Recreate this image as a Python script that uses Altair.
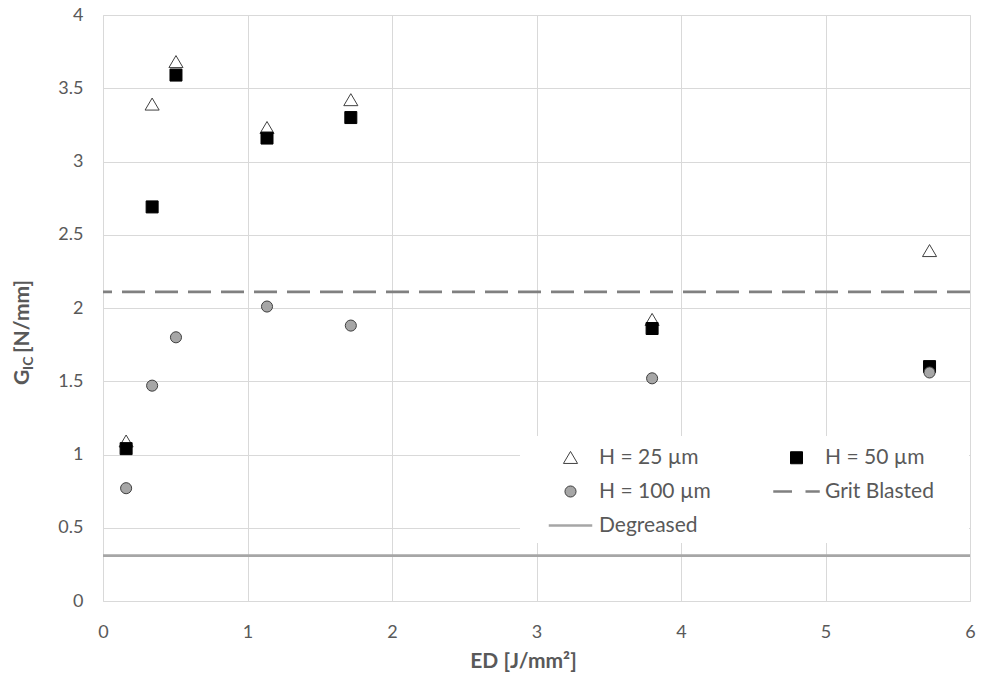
import altair as alt
import pandas as pd

# ---- data ----
ed_values = [0.16, 0.34, 0.505, 1.135, 1.715, 3.80, 5.72]
g_h25 = [1.09, 3.39, 3.68, 3.23, 3.42, 1.92, 2.39]
g_h50 = [1.04, 2.69, 3.59, 3.16, 3.30, 1.86, 1.60]
g_h100 = [0.77, 1.47, 1.80, 2.01, 1.88, 1.52, 1.56]
grit_blasted = [2.11]
degreased = [0.31]

series_names = ["H = 25 µm", "H = 50 µm", "H = 100 µm", "Grit Blasted", "Degreased"]
x_ticks = [0, 1, 2, 3, 4, 5, 6]
y_ticks = [0, 0.5, 1, 1.5, 2, 2.5, 3, 3.5, 4]

# ---- styling (symbol paths, colours) ----
style = {
    "H = 25 µm": ("M0,-0.42L0.47,0.38L-0.47,0.38Z", "#ffffff", "#404040"),
    "H = 50 µm": ("M-0.4,-0.4H0.4V0.4H-0.4Z", "#000000", "#000000"),
    "H = 100 µm": ("M-0.37,0A0.37,0.37,0,1,0,0.37,0A0.37,0.37,0,1,0,-0.37,0Z", "#a6a6a6", "#404040"),
    "Grit Blasted": ("M-1.55,-0.085H-0.3V0.085H-1.55ZM0.6,-0.085H1.55V0.085H0.6Z", "#808080", "transparent"),
    "Degreased": ("M-1.45,-0.085H1.45V0.085H-1.45Z", "#a6a6a6", "transparent"),
}
# legend fills column by column; this order gives the reference's row layout
legend_order = ["H = 25 µm", "H = 100 µm", "Degreased", "H = 50 µm", "Grit Blasted"]
shape_range = [style[s][0] for s in legend_order]
fill_range = [style[s][1] for s in legend_order]
stroke_range = [style[s][2] for s in legend_order]

rows = []
for name, vals in zip(series_names[:3], [g_h25, g_h50, g_h100]):
    for e, g in zip(ed_values, vals):
        rows.append({"ED": e, "GIc": g, "Series": name})
df_pts = pd.DataFrame(rows)
df_grit = pd.DataFrame({"GIc": grit_blasted})
df_deg = pd.DataFrame({"GIc": degreased})

FONT = "Lato"
TXT = "#595959"

legend = alt.Legend(
    title=None, orient="none", legendX=444, legendY=419, columns=2,
    symbolSize=900, symbolStrokeWidth=1, labelOffset=13,
    labelFont=FONT, labelFontSize=21, labelColor=TXT,
    rowPadding=8, columnPadding=60, padding=8,
    symbolOpacity=1,
)

x_enc = alt.X("ED:Q", scale=alt.Scale(domain=[0, 6], nice=False),
              axis=alt.Axis(values=x_ticks, title="ED [J/mm²]", grid=True,
                            gridColor="#d9d9d9", domain=False, ticks=False, tickSize=0,
                            labelFlush=False,
                            labelFont=FONT, labelFontSize=18, labelColor=TXT, labelPadding=22,
                            titleFont=FONT, titleFontSize=21, titleFontWeight="bold",
                            titleColor=TXT, titlePadding=9, titleX=420, titleAlign="center"))
y_enc = alt.Y("GIc:Q", scale=alt.Scale(domain=[0, 4], nice=False),
              axis=alt.Axis(values=y_ticks, format="~g", title=None, grid=True,
                            gridColor="#d9d9d9", domain=False, ticks=False, tickSize=0,
                            labelFlush=False,
                            labelFont=FONT, labelFontSize=18, labelColor=TXT, labelPadding=20))

points = alt.Chart(df_pts).mark_point(filled=True, size=900, opacity=1, strokeWidth=1).encode(
    x=x_enc,
    y=y_enc,
    shape=alt.Shape("Series:N", scale=alt.Scale(domain=legend_order, range=shape_range), legend=legend),
    fill=alt.Fill("Series:N", scale=alt.Scale(domain=legend_order, range=fill_range), legend=legend),
    stroke=alt.Stroke("Series:N", scale=alt.Scale(domain=legend_order, range=stroke_range), legend=legend),
)

grit = alt.Chart(df_grit).mark_rule(color="#808080", strokeWidth=2.6, strokeDash=[23, 10]).encode(y="GIc:Q")
deg = alt.Chart(df_deg).mark_rule(color="#a6a6a6", strokeWidth=2.6).encode(y="GIc:Q")

one = pd.DataFrame({"t": [0]})
# white panel behind the legend (layout element)
legend_bg = alt.Chart(one).mark_rect(color="#ffffff").encode(
    x=alt.value(417), x2=alt.value(866), y=alt.value(421), y2=alt.value(528))

# y-axis title with subscript, built from text pieces
t_g = alt.Chart(one).mark_text(text="G", angle=270, align="left", baseline="middle", font=FONT,
                               fontSize=21, fontWeight="bold", color=TXT).encode(
    x=alt.value(-80), y=alt.value(370))
t_ic = alt.Chart(one).mark_text(text="IC", angle=270, align="left", baseline="middle", font=FONT,
                                fontSize=14, fontWeight="bold", color=TXT).encode(
    x=alt.value(-74), y=alt.value(355))
t_unit = alt.Chart(one).mark_text(text="[N/mm]", angle=270, align="left", baseline="middle", font=FONT,
                                  fontSize=21, fontWeight="bold", color=TXT).encode(
    x=alt.value(-80), y=alt.value(338))

chart = alt.layer(legend_bg, deg, grit, points, t_g, t_ic, t_unit).properties(
    width=867, height=586,
    autosize=alt.AutoSizeParams(type="none"),
    padding={"left": 103, "top": 15, "right": 11, "bottom": 80},
).configure_view(stroke=None).configure(background="white")

chart.save("out.html", embed_options={"renderer": "svg", "actions": False})
